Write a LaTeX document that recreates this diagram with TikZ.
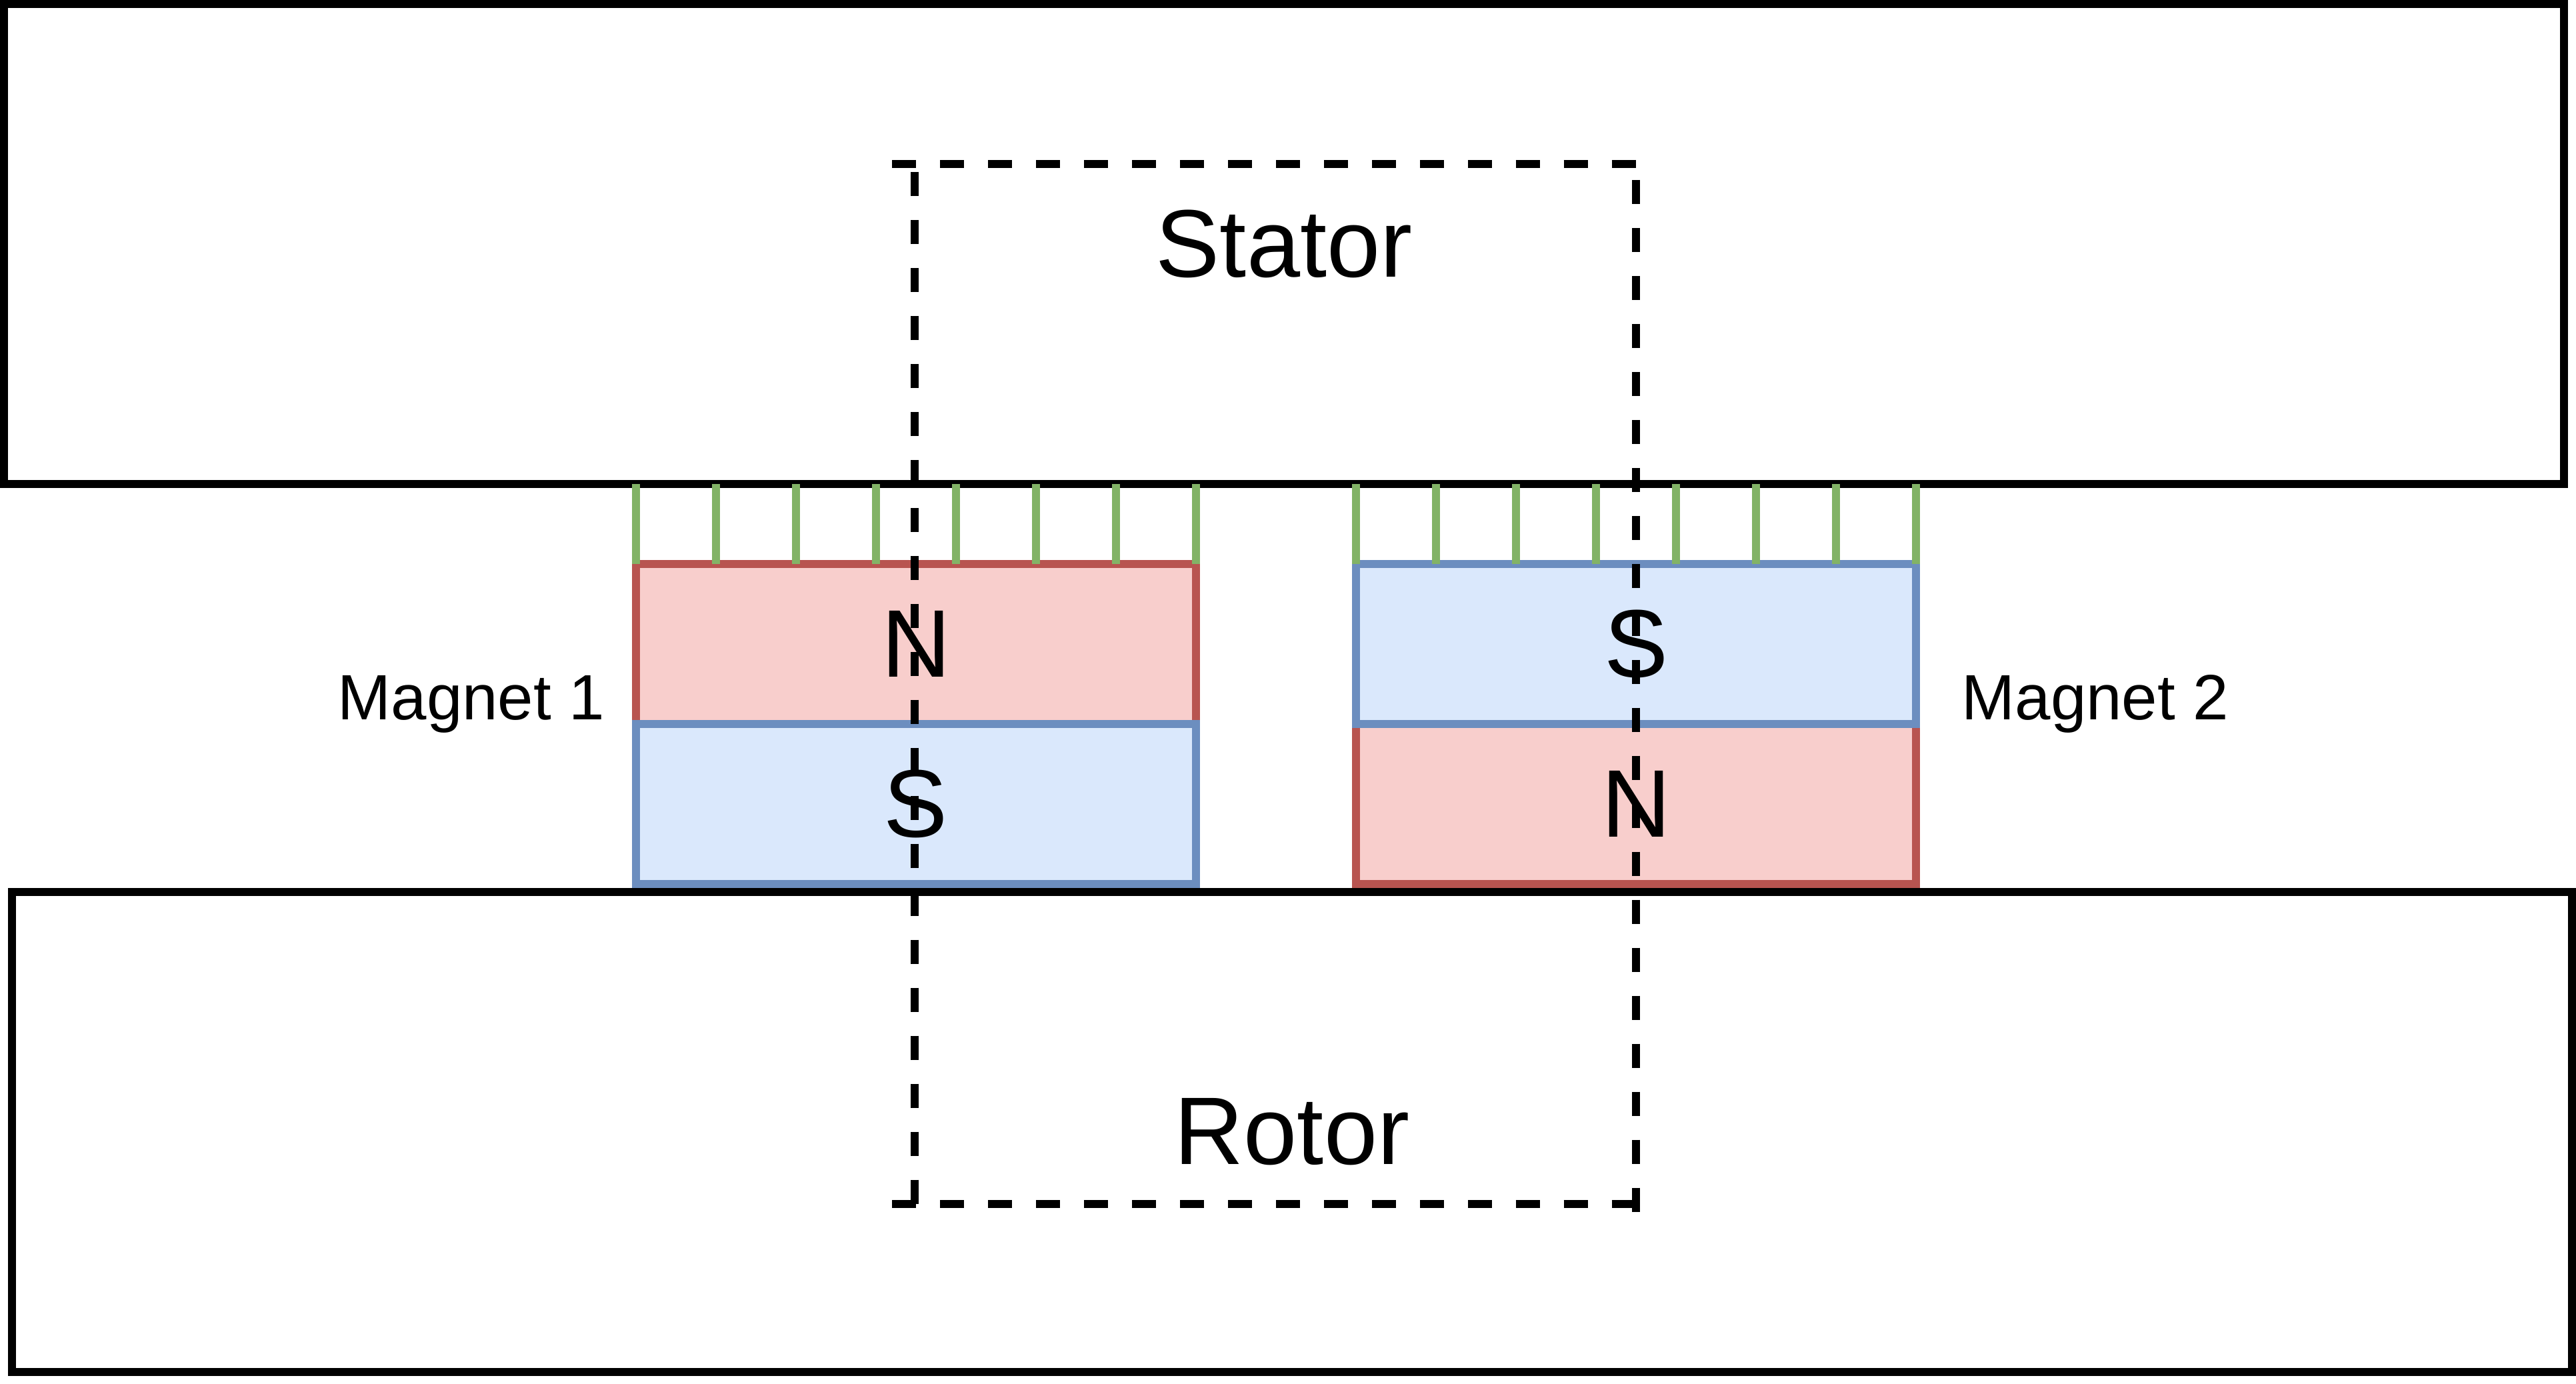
\documentclass[tikz,border=0pt]{standalone}
\usepackage{fontspec}
\setmainfont{Liberation Sans}
\usepackage{tikz}
\usetikzlibrary{arrows.meta}
\usepackage[dvipsnames]{xcolor}

\definecolor{nborde}{HTML}{B85450}
\definecolor{nfondo}{HTML}{F8CECC}
\definecolor{sborde}{HTML}{6C8EBF}
\definecolor{sfondo}{HTML}{DAE8FC}
\definecolor{campo}{HTML}{82B366}

\begin{document}
\begin{tikzpicture}[
    body/.style={
        draw=black, line width=3.41pt,
        minimum width=38.4cm, minimum height=7.2cm,
        outer sep=0pt, inner sep=0pt,
        font=\fontsize{40.97pt}{49pt}\selectfont
    },
    npole/.style={
        draw=nborde, fill=nfondo, line width=3.41pt,
        minimum width=8.4cm, minimum height=2.4cm,
        outer sep=0pt, inner sep=0pt,
        font=\fontsize{40.97pt}{49pt}\selectfont
    },
    spole/.style={npole, draw=sborde, fill=sfondo},
    maglabel/.style={font=\fontsize{27.32pt}{33pt}\selectfont, anchor=base},
    fieldline/.style={draw=campo, line width=3.41pt},
    dashframe/.style={draw=black, line width=3.41pt, dash pattern=on 10.24pt off 10.24pt}
]
\useasboundingbox (0,0) rectangle (38.64,20.76);

% Estator y rotor
\node[body] (stator) at (19.26,17.10) {Stator};
\node[body] (rotor) at (19.38,3.78) {Rotor};

% Imanes (el polo S encima del N en el borde)
\node[npole] (mOneN) at (13.74,11.10) {N};
\node[npole] (mTwoN) at (24.54,8.70) {N};
\node[spole] (mOneS) at (13.74,8.70) {S};
\node[spole] (mTwoS) at (24.54,11.10) {S};

\node[maglabel] (labOne) at (7.07,9.96) {Magnet 1};
\node[maglabel] (labTwo) at (31.43,9.96) {Magnet 2};

% Lineas de campo hacia el estator
\foreach \i in {0,...,7} {
    \draw[fieldline] ([xshift=\i*1.2cm]mOneN.north west) -- ++(0,1.2);
    \draw[fieldline] ([xshift=\i*1.2cm]mTwoS.north west) -- ++(0,1.2);
}

% Marco discontinuo
\draw[dashframe] (13.38,18.30) -- (24.54,18.30);
\draw[dashframe] (13.72,18.18) -- (13.72,2.70);
\draw[dashframe] (24.54,18.06) -- (24.54,2.58);
\draw[dashframe] (13.38,2.70) -- (24.54,2.70);

\end{tikzpicture}
\end{document}
